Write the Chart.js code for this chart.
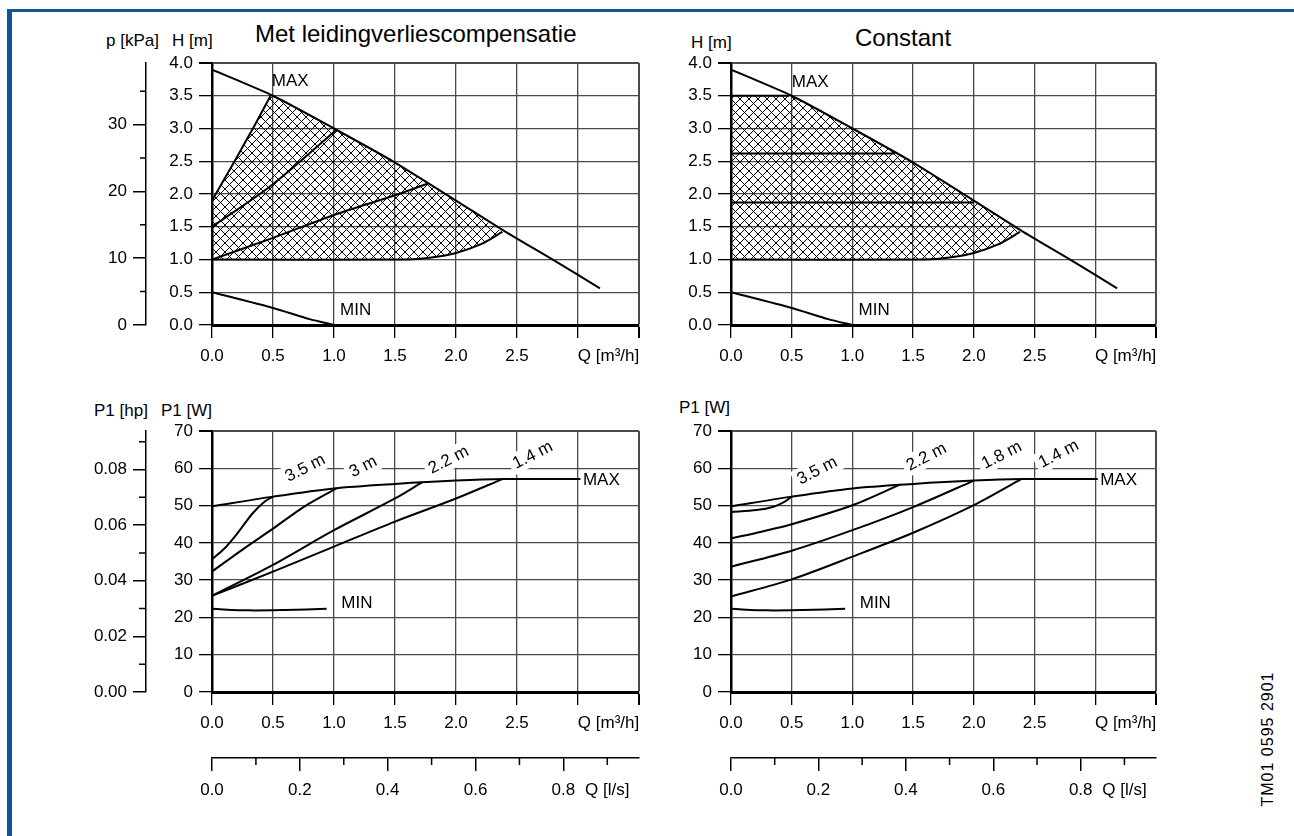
<!DOCTYPE html>
<html>
<head>
<meta charset="utf-8">
<title>Pompkarakteristiek</title>
<script src="https://cdn.jsdelivr.net/npm/chart.js@4.4.1/dist/chart.umd.min.js"></script>
<style>
  html, body { margin: 0; padding: 0; background: #fff; }
  body { width: 1294px; height: 836px; position: relative; overflow: hidden;
         font-family: "Liberation Sans", Arial, sans-serif; color: #000; }
  .frame-top { position: absolute; left: 7px; top: 9px; width: 1287px; height: 3px; background: #0b5797; }
  .frame-left { position: absolute; left: 7px; top: 9px; width: 5px; height: 827px; background: #0b5797; }
  canvas { position: absolute; }
  .lbl { position: absolute; font-size: 17px; line-height: 1; white-space: nowrap; }
  .ttl { position: absolute; font-size: 24px; line-height: 1; white-space: nowrap; }
  .tm { position: absolute; left: 1268px; top: 739px; font-size: 16px; letter-spacing: 1px;
        white-space: nowrap; transform: translate(-50%, -50%) rotate(-90deg); }
</style>
</head>
<body>
<div class="frame-top"></div>
<div class="frame-left"></div>

<div class="lbl" style="left:106px; top:32px;">p [kPa]</div>
<div class="lbl" style="left:172px; top:32px;">H [m]</div>
<div class="ttl" style="left:255px; top:22px;">Met leidingverliescompensatie</div>
<div class="lbl" style="left:691px; top:34px;">H [m]</div>
<div class="ttl" style="left:855px; top:26px;">Constant</div>
<div class="lbl" style="left:94px; top:402px;">P1 [hp]</div>
<div class="lbl" style="left:161px; top:402px;">P1 [W]</div>
<div class="lbl" style="left:679px; top:399px;">P1 [W]</div>
<div class="tm">TM01 0595 2901</div>

<canvas id="headProp" width="660" height="375" style="left:0px; top:0px;"></canvas>
<canvas id="headConst" width="530" height="375" style="left:650px; top:0px;"></canvas>
<canvas id="powerProp" width="660" height="466" style="left:0px; top:370px;"></canvas>
<canvas id="powerConst" width="530" height="466" style="left:650px; top:370px;"></canvas>

<script>
// head curves, [Q m3/h, H m]
const maxHead = [[0, 3.9], [0.5, 3.5], [1.0, 3.0], [1.5, 2.48], [2.0, 1.9], [2.4, 1.43], [2.8, 0.99], [3.18, 0.56]];
const minHead = [[0, 0.5], [0.5, 0.26], [0.8, 0.09], [1.0, 0]];
const lowerLimit = [[0, 1.0], [1.6, 1.0], [1.8, 1.03], [2.0, 1.1], [2.2, 1.23], [2.38, 1.42]];
const propHigh = [[0, 1.9], [0.2, 2.55], [0.35, 3.05], [0.48, 3.5]];
const propMid = [[0, 1.5], [0.5, 2.15], [1.02, 2.98]];
const propLow = [[0, 1.0], [0.5, 1.33], [1.0, 1.68], [1.5, 1.98], [1.77, 2.16]];
const constHeads = [3.5, 2.62, 1.87];
const constEnds = [0.48, 1.35, 2.0];

// power curves, [Q m3/h, P1 W]
const powerMax = [[0, 49.8], [0.5, 52.4], [1.0, 54.6], [1.5, 55.8], [2.0, 56.7], [2.4, 57.1], [3.02, 57.1]];
const powerMin = [[0, 22.3], [0.3, 21.9], [0.6, 22.0], [0.94, 22.3]];
const propPowerNames = ['3.5 m', '3 m', '2.2 m', '1.4 m'];
const propPower = [
  [[0, 35.6], [0.1, 38.4], [0.2, 42.2], [0.33, 47.8], [0.43, 51.0], [0.5, 52.4]],
  [[0, 32.3], [0.25, 38.2], [0.5, 43.8], [0.75, 49.6], [1.02, 54.6]],
  [[0, 25.8], [0.5, 34.1], [1.0, 43.4], [1.5, 51.9], [1.72, 56.2]],
  [[0, 25.8], [0.5, 32.3], [1.0, 39.0], [1.5, 45.7], [2.0, 51.9], [2.38, 57.1]]
];
const propLabelAt = [[0.765, 60.0], [1.24, 60.4], [1.94, 62.2], [2.63, 63.5]];
const constPowerNames = ['3.5 m', '2.2 m', '1.8 m', '1.4 m'];
const constPower = [
  [[0, 48.3], [0.21, 48.8], [0.35, 49.7], [0.45, 51.2], [0.5, 52.4]],
  [[0, 41.2], [0.25, 43.0], [0.5, 45.0], [1.0, 50.1], [1.39, 55.6]],
  [[0, 33.6], [0.5, 37.9], [1.0, 43.4], [1.5, 49.6], [2.0, 56.7]],
  [[0, 25.6], [0.5, 30.2], [1.0, 36.3], [1.5, 42.7], [2.0, 50.1], [2.39, 57.1]]
];
const constLabelAt = [[0.71, 59.3], [1.61, 63.0], [2.23, 63.5], [2.70, 63.8]];

// unit conversions for the secondary axes
const KPA_PER_M = 9.81;
const W_PER_HP = 745.7;
const M3H_PER_LS = 3.6;

const FONT = '"Liberation Sans", Arial, sans-serif';
const GRID = '#4a4a4a';
Chart.defaults.font.family = FONT;
Chart.defaults.font.size = 17;
Chart.defaults.color = '#000';

const pts = a => a.map(([x, y]) => ({x, y}));

function curve(a, tension) {
  return {
    data: pts(a), xAxisID: 'x', yAxisID: 'y',
    borderColor: '#000', borderWidth: 2, pointRadius: 0,
    fill: false, tension: tension === undefined ? 0.3 : tension
  };
}

function crossHatch() {
  const c = document.createElement('canvas');
  c.width = c.height = 9;
  const g = c.getContext('2d');
  g.strokeStyle = '#000';
  g.lineWidth = 1;
  g.beginPath();
  g.moveTo(-1, -1); g.lineTo(10, 10);
  g.moveTo(10, -1); g.lineTo(-1, 10);
  g.stroke();
  return g.createPattern(c, 'repeat');
}
const hatch = crossHatch();

function hatchArea(poly) {
  return {
    data: pts(poly), xAxisID: 'x', yAxisID: 'y',
    borderWidth: 0, borderColor: 'transparent', pointRadius: 0,
    backgroundColor: hatch, fill: 'shape', tension: 0
  };
}

const onHalf = c => c.tick && Math.abs(c.tick.value * 2 - Math.round(c.tick.value * 2)) < 1e-9;

function flowAxis(height) {
  return {
    type: 'linear', position: 'bottom', weight: 0, min: 0, max: 3.5,
    afterFit: s => { s.height = height; },
    ticks: {
      stepSize: 0.25, autoSkip: false, maxRotation: 0, padding: 8,
      callback: v => v === 3.25 ? 'Q [m\u00B3/h]' : (v % 0.5 === 0 && v <= 2.5 ? v.toFixed(1) : '')
    },
    grid: {
      color: c => onHalf(c) ? GRID : 'transparent',
      tickColor: c => onHalf(c) ? '#000' : 'transparent',
      lineWidth: c => c.tick && c.tick.value === 3.5 ? 2 : 1.3,
      tickLength: 13
    },
    border: { color: '#000', width: 3 }
  };
}

function valueAxis(max, step, digits, width) {
  return {
    type: 'linear', position: 'left', weight: 0, min: 0, max: max,
    afterFit: s => { s.width = width; },
    ticks: { stepSize: step, autoSkip: false, padding: 6, callback: v => v.toFixed(digits) },
    grid: {
      color: GRID, tickColor: '#000', tickLength: 13,
      lineWidth: c => c.tick && c.tick.value === max ? 2 : 1.3
    },
    border: { color: '#000', width: 2.5 }
  };
}

// outer axis in another unit; every second tick is a short unlabelled one
function outerAxis(position, max, step, isMajor, label, size) {
  return {
    type: 'linear', position: position, weight: 1, min: 0, max: max,
    afterFit: s => { if (position === 'left') s.width = size; else s.height = size; },
    ticks: {
      stepSize: step, autoSkip: false, includeBounds: false, maxRotation: 0,
      padding: position === 'left' ? 6 : 9, callback: label
    },
    grid: {
      drawOnChartArea: false, tickLength: 13, lineWidth: 1.5,
      tickColor: c => c.tick && isMajor(c.tick.value) ? '#000' : 'transparent'
    },
    border: { color: '#000', width: 1.5 }
  };
}

const evenStep = (v, step) => Math.round(v / step) % 2 === 0;

function minorTicks(ids, len) {
  return {
    id: 'minorTicks',
    afterDraw(chart) {
      const ctx = chart.ctx;
      ctx.save();
      ctx.strokeStyle = '#000';
      ctx.lineWidth = 1.5;
      ctx.beginPath();
      for (const id of ids) {
        const s = chart.scales[id];
        const step = s.options.ticks.stepSize;
        for (const t of s.ticks) {
          if (evenStep(t.value, step)) continue;
          const p = s.getPixelForValue(t.value);
          if (s.position === 'left') { ctx.moveTo(s.right - len, p); ctx.lineTo(s.right, p); }
          else { ctx.moveTo(p, s.top); ctx.lineTo(p, s.top + len); }
        }
      }
      ctx.stroke();
      ctx.restore();
    }
  };
}

function notes(items) {
  return {
    id: 'notes',
    afterDatasetsDraw(chart) {
      const {ctx, scales: {x, y}} = chart;
      for (const n of items) {
        ctx.save();
        ctx.translate(x.getPixelForValue(n.x), y.getPixelForValue(n.y));
        ctx.rotate((n.rot || 0) * Math.PI / 180);
        ctx.font = '17px ' + FONT;
        ctx.textAlign = n.align || 'left';
        ctx.textBaseline = 'middle';
        if (n.box) {
          const w = ctx.measureText(n.text).width;
          ctx.fillStyle = '#fff';
          ctx.fillRect(-w / 2 - 4, -11, w + 8, 21);
        }
        ctx.fillStyle = '#000';
        ctx.fillText(n.text, 0, 0);
        ctx.restore();
      }
    }
  };
}

function baseOptions(padding, scales) {
  return {
    responsive: false, animation: false, events: [],
    layout: { padding },
    plugins: { legend: { display: false }, tooltip: { enabled: false } },
    scales
  };
}

const maxBetween = (a, b) => maxHead.filter(p => p[0] > a && p[0] < b);
const lowerBack = lowerLimit.slice().reverse();

const pressureAxis = outerAxis('left', 4 * KPA_PER_M, 5, v => evenStep(v, 5),
  v => evenStep(v, 5) ? String(v) : '', 86);
const hpAxis = () => outerAxis('left', 70 / W_PER_HP, 0.01, v => evenStep(v, 0.01),
  v => evenStep(v, 0.01) ? v.toFixed(2) : '', 86);
const litreAxis = () => outerAxis('bottom', 3.5 / M3H_PER_LS, 0.1, v => evenStep(v, 0.1),
  v => Math.abs(v - 0.9) < 1e-6 ? 'Q [l/s]' : (evenStep(v, 0.1) ? v.toFixed(1) : ''), 78);

// H(Q) with proportional-pressure control
new Chart(document.getElementById('headProp'), {
  type: 'line',
  data: { datasets: [
    curve(maxHead, 0.2), curve(minHead, 0.2),
    curve(propHigh, 0.15), curve(propMid), curve(propLow), curve(lowerLimit),
    hatchArea([[0, 1.0]].concat(propHigh, maxBetween(0.48, 2.38), lowerBack))
  ] },
  options: baseOptions({left: 60, top: 63, right: 21, bottom: 0},
    { x: flowAxis(50), y: valueAxis(4, 0.5, 1, 66), p: pressureAxis }),
  plugins: [
    notes([{text: 'MAX', x: 0.49, y: 3.72}, {text: 'MIN', x: 1.05, y: 0.23}]),
    minorTicks(['p'], 6)
  ]
});

// H(Q) with constant-pressure control
const constLines = constHeads.map((h, i) => curve([[0, h], [constEnds[i], h]], 0));
new Chart(document.getElementById('headConst'), {
  type: 'line',
  data: { datasets: [
    curve(maxHead, 0.2), curve(minHead, 0.2)
  ].concat(constLines, [
    curve(lowerLimit),
    hatchArea([[0, 1.0], [0, constHeads[0]], [constEnds[0], constHeads[0]]]
      .concat(maxBetween(constEnds[0], 2.38), lowerBack))
  ]) },
  options: baseOptions({left: 15, top: 63, right: 24, bottom: 0},
    { x: flowAxis(50), y: valueAxis(4, 0.5, 1, 66) }),
  plugins: [
    notes([{text: 'MAX', x: 0.5, y: 3.7}, {text: 'MIN', x: 1.05, y: 0.23}])
  ]
});

function powerChart(id, names, curves, labelAt, padLeft, withHp) {
  const scales = { x: flowAxis(66), xl: litreAxis(), y: valueAxis(70, 10, 0, 66) };
  if (withHp) scales.hp = hpAxis();
  const items = [{text: 'MAX', x: 3.04, y: 56.8}, {text: 'MIN', x: 1.06, y: 23.9}]
    .concat(names.map((n, i) => ({text: n, x: labelAt[i][0], y: labelAt[i][1], rot: -27, align: 'center', box: true})));
  new Chart(document.getElementById(id), {
    type: 'line',
    data: { datasets: [curve(powerMax, 0.3), curve(powerMin, 0.3)].concat(curves.map(c => curve(c, 0.3))) },
    options: baseOptions({left: padLeft, top: 61, right: withHp ? 21 : 24, bottom: 0}, scales),
    plugins: [notes(items), minorTicks(withHp ? ['hp', 'xl'] : ['xl'], 7)]
  });
}

powerChart('powerProp', propPowerNames, propPower, propLabelAt, 60, true);
powerChart('powerConst', constPowerNames, constPower, constLabelAt, 15, false);
</script>
</body>
</html>
